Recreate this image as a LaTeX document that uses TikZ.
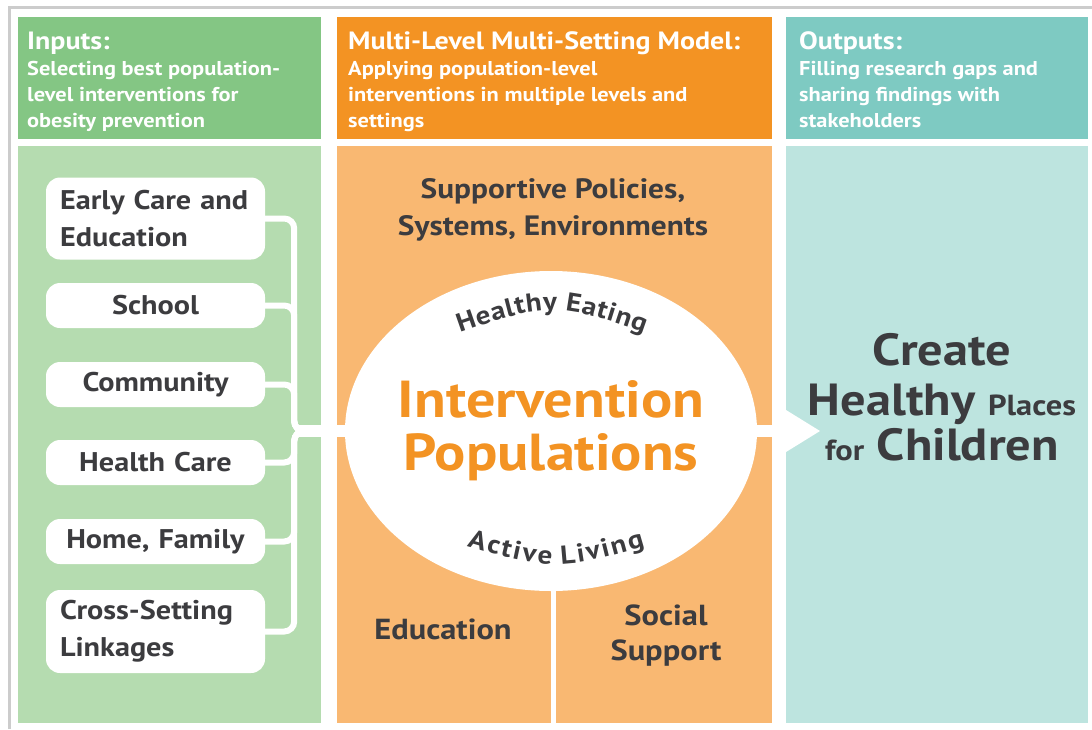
\documentclass[tikz,border=0pt]{standalone}
\usepackage{fontspec}
\setmainfont{PT Sans}[FakeStretch=1.12]
\usetikzlibrary{shapes.geometric, decorations.text, positioning}

\definecolor{grnhead}{HTML}{84C684}
\definecolor{grnbody}{HTML}{B5DCB0}
\definecolor{orghead}{HTML}{F39323}
\definecolor{orgbody}{HTML}{F9B872}
\definecolor{tealhead}{HTML}{7ECAC2}
\definecolor{tealbody}{HTML}{BDE4DF}
\definecolor{ink}{HTML}{3C3C3F}
\definecolor{framegrey}{HTML}{CCCCCC}

\begin{document}
\begin{tikzpicture}[x=1pt, y=-1pt,
  head title/.style={anchor=base west, inner sep=0, text=white, font=\fontsize{25}{30}\selectfont\bfseries},
  head text/.style={anchor=north west, inner sep=0, text=white, align=left, font=\fontsize{20}{26}\selectfont\bfseries},
  setting node/.style={rectangle, rounded corners=14pt, fill=white, text=ink, text width=191pt, inner xsep=14pt, inner ysep=0pt, minimum height=45pt, align=center, font=\fontsize{27}{37}\selectfont\bfseries},
  big label/.style={inner sep=0, text=ink, align=center, font=\fontsize{29}{35}\selectfont\bfseries},
  link/.style={draw=white, line width=6pt, rounded corners=10pt},
  bar/.style={draw=white, line width=12pt}]

  \useasboundingbox (0,0) rectangle (1092,729);
  \draw[framegrey, line width=3pt] (9.5,729) -- (9.5,7.5) -- (1092,7.5);

  \fill[grnhead] (18,17) rectangle (321,139);
  \fill[grnbody] (18,146) rectangle (321,723);
  \fill[orghead] (337,17) rectangle (772,139);
  \fill[orgbody] (337,146) rectangle (772,723);
  \fill[tealhead] (786,17) rectangle (1088,139);
  \fill[tealbody] (786,146) rectangle (1088,723);

  \node[head title] (intitle) at (27,49) {Inputs:};
  \node[head text] (intext) at (27,61) {Selecting best population-\\level interventions for\\obesity prevention};
  \node[head title] (mltitle) at (348,49) {Multi-Level Multi-Setting Model:};
  \node[head text] (mltext) at (348,61) {Applying population-level\\interventions in multiple levels and\\settings};
  \node[head title] (outtitle) at (799,49) {Outputs:};
  \node[head text] (outtext) at (799,61) {Filling research gaps and\\sharing findings with\\stakeholders};

  \node[setting node, align=left, minimum height=82pt] (ece) at (155.5,218.5) {Early Care and\\Education};
  \node[setting node] (school) at (155.5,305.5) {School};
  \node[setting node] (community) at (155.5,384.5) {Community};
  \node[setting node] (health) at (155.5,462.5) {Health Care};
  \node[setting node] (home) at (155.5,541.5) {Home, Family};
  \node[setting node, align=left, minimum height=83pt] (cross) at (155.5,631.5) {Cross-Setting\\Linkages};

  \node[ellipse, fill=white, minimum width=412pt, minimum height=320pt, inner sep=0] (ip) at (551,431) {};
  \node[inner sep=0, text=orghead, align=center, font=\fontsize{52}{53}\selectfont\bfseries] (ipt) at (ip.center) {Intervention\\Populations};

  \coordinate (bus) at (296,431);
  \coordinate (tip) at (820,431);

  \path[link] (ece.east) -- ++(29,0) |- (ip.west);
  \path[link] (school.east) -- ++(29,0) |- (ip.west);
  \path[link] (community.east) -- ++(29,0) |- (ip.west);
  \path[link] (health.east) -- ++(29,0) |- (ip.west);
  \path[link] (home.east) -- ++(29,0) |- (ip.west);
  \path[link] (cross.east) -- ++(29,0) |- (ip.west);
  \path[bar] (bus) -- (ip.west);
  \path[bar] (ip.east) -- (787,431);
  \fill[white] (786,410) -- (tip) -- (786,452) -- cycle;
  \draw[white, line width=5pt] (ip.south) ++(2,0) -- ++(0,132);

  \path[decorate, decoration={text along path, text align=center, text color=ink,
    text={|\fontsize{26}{26}\selectfont\bfseries|{H\kern0.6pt}{e\kern0.6pt}{a\kern0.6pt}{l\kern0.6pt}{t\kern0.6pt}{h\kern0.6pt}{y\kern0.6pt} {E\kern0.6pt}{a\kern0.6pt}{t\kern0.6pt}{i\kern0.6pt}{n\kern0.6pt}g}}]
    (432,342.6) .. controls (552,299.4) .. (672,342.6);
  \path[decorate, decoration={text along path, text align=center, text color=ink,
    text={|\fontsize{26}{26}\selectfont\bfseries|{A\kern2pt}{c\kern2pt}{t\kern2pt}{i\kern2pt}{v\kern2pt}{e\kern2pt} {L\kern2pt}{i\kern2pt}{v\kern2pt}{i\kern2pt}{n\kern2pt}g}}]
    (436,537) .. controls (556,573) .. (676,537);

  \node[big label, font=\fontsize{28}{37}\selectfont\bfseries] (policies) at (553,210) {Supportive Policies,\\Systems, Environments};
  \node[big label] (education) at (443,629) {Education};
  \node[big label] (social) at (666,636) {Social\\Support};

  \node[inner sep=0, text=ink, align=center, font=\fontsize{45}{50}\selectfont\bfseries] (create) at (942,397)
    {Create\\Healthy {\fontsize{29}{29}\selectfont Places}\\[-5pt]{\fontsize{29}{29}\selectfont for} Children};
\end{tikzpicture}
\end{document}
